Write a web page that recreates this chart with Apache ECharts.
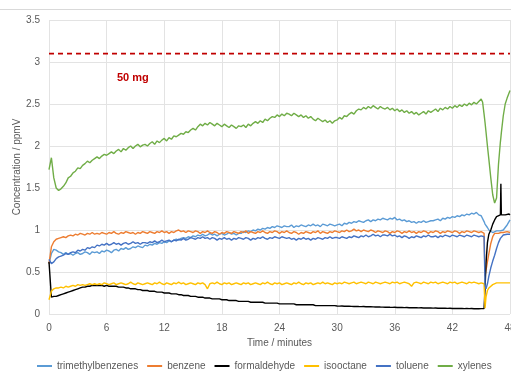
<!DOCTYPE html>
<html>
<head>
<meta charset="utf-8">
<script src="https://cdn.jsdelivr.net/npm/echarts@6/dist/echarts.min.js"></script>
<style>
html,body{margin:0;padding:0;background:#fff;}
#chart{width:511px;height:378px;}
</style>
</head>
<body>
<div id="chart"></div>
<script>
// ---- DATA ----
const seriesNames = ['trimethylbenzenes','benzene','formaldehyde','isooctane','toluene','xylenes'];
const xTicks = [0,6,12,18,24,30,36,42,48];
const yTicks = [0,0.5,1,1.5,2,2.5,3,3.5];
const limitLevel = [3.1];
const limitLabel = '50 mg';

const timeMinutes = [
0,0.25,0.5,0.75,1,1.25,1.5,1.75,2,2.25,2.5,2.75,3,3.25,3.5,3.75,4,4.25,4.5,4.75,
5,5.25,5.5,5.75,6,6.25,6.5,6.75,7,7.25,7.5,7.75,8,8.25,8.5,8.75,9,9.25,9.5,9.75,
10,10.25,10.5,10.75,11,11.25,11.5,11.75,12,12.25,12.5,12.75,13,13.25,13.5,13.75,14,14.25,14.5,14.75,
15,15.25,15.5,15.75,16,16.25,16.5,16.75,17,17.25,17.5,17.75,18,18.25,18.5,18.75,19,19.25,19.5,19.75,
20,20.25,20.5,20.75,21,21.25,21.5,21.75,22,22.25,22.5,22.75,23,23.25,23.5,23.75,24,24.25,24.5,24.75,
25,25.25,25.5,25.75,26,26.25,26.5,26.75,27,27.25,27.5,27.75,28,28.25,28.5,28.75,29,29.25,29.5,29.75,
30,30.25,30.5,30.75,31,31.25,31.5,31.75,32,32.25,32.5,32.75,33,33.25,33.5,33.75,34,34.25,34.5,34.75,
35,35.25,35.5,35.75,36,36.25,36.5,36.75,37,37.25,37.5,37.75,38,38.25,38.5,38.75,39,39.25,39.5,39.75,
40,40.25,40.5,40.75,41,41.25,41.5,41.75,42,42.25,42.5,42.75,43,43.25,43.5,43.75,44,44.25,44.5,44.75,
45,45.15,45.3,45.4,45.5,45.65,45.8,46,46.2,46.4,46.6,46.8,47,47.05,47.1,47.3,47.5,47.7,47.9,48
];

const trimethylbenzenes = [
0.60,0.72,0.77,0.76,0.74,0.73,0.71,0.73,0.71,0.72,0.70,0.72,0.73,0.71,0.72,0.74,0.73,0.71,0.74,0.73,
0.74,0.72,0.75,0.74,0.76,0.75,0.73,0.76,0.77,0.75,0.78,0.77,0.79,0.77,0.78,0.80,0.79,0.81,0.80,0.79,
0.82,0.81,0.83,0.82,0.84,0.83,0.85,0.84,0.86,0.85,0.87,0.86,0.88,0.89,0.88,0.90,0.91,0.90,0.92,0.91,
0.93,0.92,0.94,0.93,0.95,0.93,0.94,0.96,0.94,0.95,0.93,0.95,0.96,0.94,0.95,0.97,0.95,0.96,0.94,0.96,
0.96,0.98,0.97,0.99,0.98,1.00,0.99,1.01,1.00,1.02,1.01,1.03,1.02,1.04,1.03,1.05,1.04,1.03,1.05,1.04,
1.04,1.06,1.03,1.05,1.04,1.06,1.05,1.04,1.06,1.05,1.07,1.05,1.06,1.04,1.07,1.06,1.05,1.07,1.06,1.05,
1.06,1.07,1.05,1.08,1.07,1.09,1.08,1.10,1.09,1.11,1.10,1.09,1.11,1.12,1.10,1.12,1.11,1.13,1.12,1.14,
1.13,1.12,1.14,1.13,1.15,1.12,1.13,1.11,1.12,1.10,1.11,1.09,1.10,1.08,1.10,1.09,1.11,1.09,1.10,1.11,
1.11,1.12,1.13,1.11,1.14,1.13,1.15,1.14,1.16,1.15,1.17,1.16,1.18,1.17,1.19,1.18,1.20,1.19,1.21,1.18,
1.17,1.15,1.10,1.07,1.05,1.03,1.00,0.98,0.97,0.98,0.99,0.98,0.99,1.00,0.99,1.00,1.01,1.06,1.10,1.12
];

const benzene = [
0.60,0.80,0.86,0.89,0.90,0.91,0.92,0.91,0.93,0.94,0.93,0.95,0.94,0.96,0.95,0.94,0.96,0.95,0.97,0.95,
0.96,0.95,0.97,0.96,0.95,0.97,0.96,0.98,0.96,0.95,0.97,0.96,0.98,0.97,0.96,0.97,0.95,0.97,0.96,0.98,
0.97,0.96,0.98,0.97,0.96,0.98,0.97,0.99,0.97,0.98,0.96,0.98,0.97,0.99,1.00,0.98,0.99,0.97,0.99,0.98,
0.97,0.99,0.98,0.96,0.98,0.97,0.99,0.97,0.96,0.98,0.97,0.95,0.97,0.96,0.98,0.97,0.96,0.98,0.97,0.96,
0.98,0.97,0.99,0.96,0.98,0.97,0.96,0.98,0.97,0.99,0.97,0.96,0.98,0.97,0.99,0.98,0.96,0.98,0.97,0.99,
0.97,0.96,0.98,0.97,0.95,0.97,0.96,0.98,0.97,0.96,0.98,0.97,0.99,0.96,0.98,0.97,0.96,0.98,0.97,0.99,
0.98,0.97,0.99,0.98,1.00,0.98,0.99,1.01,0.99,1.00,0.98,1.00,0.99,0.98,1.00,0.99,0.97,0.99,0.98,0.97,
0.99,0.98,0.96,0.98,0.97,0.99,0.98,0.96,0.98,0.97,0.99,0.97,0.98,0.96,0.98,0.97,0.99,0.98,0.96,0.98,
0.97,0.99,0.98,0.96,0.98,0.97,0.99,0.98,0.97,0.99,0.98,0.96,0.98,0.97,0.99,0.98,0.97,0.99,0.98,0.97,
0.98,0.97,0.96,0.45,0.52,0.62,0.72,0.84,0.92,0.96,0.97,0.96,0.98,0.97,0.98,0.97,0.96,0.98,0.97,0.97
];

const formaldehyde = [
0.62,0.20,0.21,0.21,0.22,0.23,0.24,0.25,0.26,0.27,0.28,0.29,0.30,0.31,0.32,0.32,0.33,0.33,0.34,0.34,
0.34,0.34,0.34,0.33,0.34,0.33,0.33,0.33,0.33,0.32,0.32,0.32,0.31,0.31,0.30,0.30,0.30,0.29,0.29,0.28,
0.28,0.28,0.27,0.27,0.27,0.26,0.26,0.26,0.25,0.25,0.25,0.24,0.24,0.24,0.23,0.23,0.22,0.22,0.22,0.21,
0.21,0.21,0.20,0.20,0.20,0.19,0.19,0.19,0.18,0.18,0.18,0.18,0.17,0.17,0.17,0.16,0.16,0.16,0.16,0.15,
0.15,0.15,0.15,0.15,0.14,0.14,0.14,0.14,0.14,0.14,0.13,0.13,0.13,0.13,0.13,0.13,0.12,0.12,0.12,0.12,
0.12,0.12,0.12,0.11,0.11,0.11,0.11,0.11,0.11,0.11,0.11,0.10,0.10,0.10,0.10,0.10,0.10,0.10,0.10,0.10,
0.096,0.094,0.095,0.093,0.092,0.093,0.091,0.090,0.091,0.089,0.088,0.089,0.087,0.086,0.087,0.085,0.084,0.085,0.083,0.082,
0.081,0.082,0.080,0.079,0.080,0.078,0.077,0.078,0.076,0.077,0.075,0.076,0.074,0.075,0.073,0.074,0.072,0.073,0.071,0.072,
0.070,0.071,0.069,0.070,0.068,0.069,0.067,0.068,0.066,0.067,0.066,0.065,0.066,0.064,0.065,0.064,0.065,0.063,0.064,0.063,
0.064,0.064,0.065,0.30,0.60,0.85,0.95,1.00,1.07,1.12,1.16,1.18,1.18,1.55,1.18,1.19,1.18,1.18,1.19,1.18
];

const isooctane = [
0.17,0.27,0.30,0.31,0.31,0.32,0.31,0.33,0.32,0.33,0.34,0.33,0.35,0.34,0.35,0.34,0.35,0.36,0.35,0.36,
0.35,0.36,0.35,0.37,0.36,0.35,0.36,0.37,0.35,0.36,0.37,0.36,0.35,0.36,0.38,0.36,0.35,0.37,0.36,0.35,
0.36,0.37,0.36,0.35,0.37,0.36,0.38,0.36,0.35,0.37,0.36,0.35,0.37,0.36,0.38,0.36,0.37,0.35,0.36,0.37,
0.36,0.35,0.37,0.36,0.37,0.35,0.30,0.36,0.37,0.36,0.38,0.36,0.35,0.37,0.36,0.37,0.35,0.36,0.37,0.36,
0.35,0.37,0.36,0.37,0.35,0.36,0.37,0.36,0.35,0.37,0.36,0.38,0.36,0.35,0.37,0.36,0.37,0.35,0.36,0.37,
0.36,0.35,0.37,0.36,0.38,0.36,0.35,0.37,0.36,0.37,0.35,0.36,0.37,0.36,0.38,0.36,0.37,0.36,0.35,0.37,
0.36,0.37,0.36,0.38,0.37,0.36,0.37,0.38,0.36,0.37,0.38,0.37,0.36,0.38,0.37,0.36,0.38,0.37,0.36,0.37,
0.38,0.37,0.36,0.38,0.37,0.38,0.36,0.37,0.38,0.37,0.36,0.33,0.37,0.38,0.37,0.36,0.38,0.37,0.36,0.38,
0.37,0.38,0.36,0.37,0.38,0.37,0.36,0.38,0.37,0.38,0.36,0.37,0.38,0.37,0.36,0.38,0.37,0.38,0.37,0.36,
0.37,0.37,0.36,0.07,0.20,0.28,0.31,0.33,0.35,0.36,0.37,0.36,0.37,0.37,0.36,0.37,0.38,0.37,0.36,0.37
];

const toluene = [
0.65,0.60,0.62,0.66,0.68,0.69,0.70,0.72,0.71,0.73,0.74,0.73,0.76,0.75,0.77,0.76,0.79,0.78,0.80,0.79,
0.82,0.81,0.83,0.82,0.84,0.82,0.83,0.85,0.83,0.84,0.82,0.84,0.85,0.83,0.84,0.86,0.84,0.85,0.83,0.85,
0.85,0.84,0.86,0.85,0.87,0.85,0.86,0.88,0.86,0.87,0.88,0.86,0.88,0.87,0.89,0.88,0.90,0.88,0.89,0.91,
0.90,0.89,0.91,0.90,0.92,0.90,0.91,0.89,0.91,0.90,0.88,0.90,0.89,0.91,0.89,0.90,0.88,0.90,0.89,0.91,
0.90,0.89,0.91,0.90,0.88,0.90,0.89,0.91,0.90,0.92,0.90,0.89,0.91,0.90,0.92,0.91,0.90,0.92,0.91,0.90,
0.91,0.89,0.90,0.88,0.90,0.89,0.91,0.89,0.90,0.88,0.90,0.89,0.91,0.90,0.89,0.91,0.90,0.92,0.90,0.91,
0.91,0.90,0.92,0.91,0.90,0.92,0.91,0.93,0.92,0.91,0.93,0.92,0.94,0.92,0.93,0.95,0.93,0.94,0.92,0.94,
0.94,0.93,0.95,0.93,0.94,0.92,0.93,0.91,0.93,0.92,0.90,0.92,0.91,0.93,0.92,0.91,0.93,0.92,0.94,0.92,
0.92,0.93,0.91,0.93,0.92,0.94,0.93,0.92,0.94,0.93,0.92,0.94,0.93,0.92,0.94,0.93,0.92,0.94,0.93,0.92,
0.93,0.93,0.92,0.35,0.30,0.36,0.45,0.55,0.63,0.70,0.78,0.85,0.90,0.91,0.92,0.94,0.93,0.95,0.94,0.95
];

const xylenes = [
1.72,1.86,1.62,1.50,1.47,1.49,1.52,1.56,1.62,1.64,1.68,1.70,1.74,1.73,1.77,1.79,1.82,1.80,1.83,1.85,
1.87,1.85,1.88,1.90,1.89,1.91,1.93,1.91,1.94,1.96,1.93,1.97,1.95,1.98,2.00,1.97,2.00,2.02,1.99,2.01,
2.02,2.00,2.03,2.05,2.02,2.06,2.04,2.07,2.09,2.06,2.10,2.08,2.12,2.11,2.13,2.15,2.14,2.17,2.16,2.19,
2.21,2.19,2.23,2.26,2.24,2.27,2.25,2.28,2.26,2.24,2.27,2.25,2.23,2.26,2.24,2.22,2.25,2.23,2.21,2.24,
2.23,2.25,2.22,2.26,2.24,2.27,2.29,2.27,2.30,2.28,2.32,2.30,2.33,2.35,2.34,2.37,2.35,2.38,2.36,2.39,
2.38,2.36,2.39,2.37,2.35,2.37,2.34,2.36,2.33,2.35,2.32,2.30,2.33,2.31,2.29,2.31,2.28,2.30,2.27,2.30,
2.31,2.34,2.32,2.36,2.35,2.38,2.40,2.38,2.42,2.44,2.43,2.46,2.44,2.47,2.45,2.48,2.46,2.44,2.47,2.45,
2.44,2.46,2.43,2.45,2.42,2.44,2.41,2.43,2.40,2.42,2.39,2.41,2.38,2.40,2.37,2.39,2.41,2.38,2.42,2.40,
2.42,2.44,2.41,2.45,2.43,2.46,2.44,2.47,2.45,2.48,2.46,2.49,2.47,2.50,2.48,2.51,2.49,2.52,2.50,2.53,
2.56,2.52,2.38,2.28,2.17,2.00,1.84,1.62,1.42,1.32,1.38,1.78,2.05,2.10,2.16,2.36,2.50,2.57,2.63,2.66
];

const seriesValues = [trimethylbenzenes, benzene, formaldehyde, isooctane, toluene, xylenes];
const seriesColors = ['#5B9BD5','#ED7D31','#000000','#FFC000','#4472C4','#70AD47'];

// ---- CHART ----
const FONT = '"Liberation Sans", Arial, sans-serif';
const TXT = '#595959';
const chart = echarts.init(document.getElementById('chart'), null, {renderer:'canvas'});

const series = [{
  name: 'limit',
  type: 'line',
  symbol: 'none',
  silent: true,
  data: [[xTicks[0], limitLevel[0]], [xTicks[xTicks.length-1], limitLevel[0]]],
  lineStyle: {color:'#C00000', width:1.6, type:[5,4]},
  z: 1
}];
seriesNames.forEach((n, k) => {
  series.push({
    name: n,
    type: 'line',
    symbol: 'none',
    showSymbol: false,
    animation: false,
    data: timeMinutes.map((t, i) => [t, seriesValues[k][i]]),
    lineStyle: {color: seriesColors[k], width: 1.4},
    itemStyle: {color: seriesColors[k]},
    z: 2 + k
  });
});

chart.setOption({
  animation: false,
  backgroundColor: '#ffffff',
  grid: {left: 49, right: 1, top: 20, bottom: 64, containLabel: false, outerBoundsMode: 'none'},
  xAxis: {
    type: 'value', min: xTicks[0], max: xTicks[xTicks.length-1], interval: 6,
    name: 'Time / minutes', nameLocation: 'middle', nameGap: 24, nameMoveOverlap: false,
    nameTextStyle: {color: TXT, fontSize: 10, fontFamily: FONT},
    axisLine: {show: false}, axisTick: {show: false},
    axisLabel: {color: TXT, fontSize: 10, fontFamily: FONT, margin: 9, hideOverlap: false},
    splitLine: {show: true, lineStyle: {color: '#E3E3E3', width: 1}}
  },
  yAxis: {
    type: 'value', min: yTicks[0], max: yTicks[yTicks.length-1], interval: 0.5,
    name: 'Concentration / ppmV', nameLocation: 'middle', nameGap: 27, nameMoveOverlap: false,
    nameTextStyle: {color: TXT, fontSize: 10, fontFamily: FONT},
    axisLine: {show: false}, axisTick: {show: false},
    axisLabel: {color: TXT, fontSize: 10, fontFamily: FONT, margin: 9},
    splitLine: {show: true, lineStyle: {color: '#E3E3E3', width: 1}}
  },
  legend: {
    data: seriesNames,
    left: 37, top: 361, padding: 0,
    icon: 'rect',
    itemWidth: 15, itemHeight: 2, itemGap: 9,
    textStyle: {color: TXT, fontSize: 10, fontFamily: FONT}
  },
  graphic: [
    {type: 'line', shape: {x1: 0, y1: 9.5, x2: 511, y2: 9.5}, style: {stroke: '#D9D9D9', lineWidth: 1}, silent: true},
    {type: 'text', left: 117, top: 72, style: {text: limitLabel, fill: '#C00000', font: 'bold 11px ' + FONT}, silent: true}
  ],
  series: series
});
</script>
</body>
</html>
